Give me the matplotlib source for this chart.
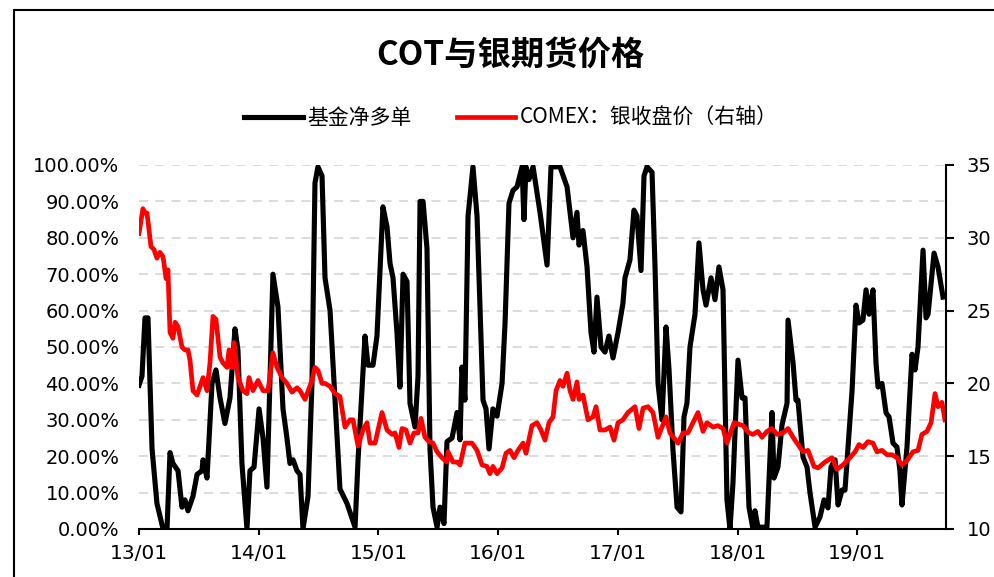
import numpy as np
import matplotlib
matplotlib.use("Agg")
import matplotlib.pyplot as plt
from matplotlib.patches import Rectangle
from matplotlib.ticker import FuncFormatter

plt.rcParams['font.family'] = ['Noto Sans CJK SC', 'DejaVu Sans']

# 基金净多单 (左轴, %) : 时间以 2013 年起的年数表示
cot_t = [0.000, 0.025, 0.050, 0.075, 0.109, 0.150, 0.201, 0.234, 0.259, 0.284,
         0.326, 0.359, 0.384, 0.409, 0.451, 0.485, 0.526, 0.535, 0.568, 0.610,
         0.643, 0.677, 0.718, 0.760, 0.802, 0.827, 0.860, 0.902, 0.927, 0.961,
         1.003, 1.036, 1.069, 1.119, 1.161, 1.203, 1.236, 1.261, 1.287, 1.320,
         1.345, 1.370, 1.412, 1.445, 1.470, 1.495, 1.529, 1.554, 1.596, 1.679,
         1.738, 1.779, 1.805, 1.830, 1.888, 1.913, 1.955, 1.988, 2.038, 2.072,
         2.097, 2.122, 2.155, 2.180, 2.206, 2.239, 2.264, 2.306, 2.331, 2.348,
         2.373, 2.406, 2.431, 2.456, 2.490, 2.515, 2.548, 2.573, 2.615, 2.657,
         2.682, 2.698, 2.723, 2.749, 2.790, 2.824, 2.874, 2.899, 2.924, 2.957,
         2.991, 3.033, 3.058, 3.091, 3.124, 3.158, 3.200, 3.216, 3.233, 3.258,
         3.292, 3.350, 3.409, 3.442, 3.517, 3.576, 3.626, 3.659, 3.676, 3.709,
         3.743, 3.776, 3.801, 3.826, 3.860, 3.893, 3.926, 3.960, 4.002, 4.043,
         4.060, 4.102, 4.135, 4.160, 4.194, 4.219, 4.244, 4.286, 4.311, 4.336,
         4.369, 4.403, 4.428, 4.461, 4.495, 4.528, 4.553, 4.578, 4.603, 4.645,
         4.678, 4.712, 4.737, 4.779, 4.812, 4.845, 4.879, 4.912, 4.937, 4.962,
         5.004, 5.038, 5.063, 5.096, 5.129, 5.146, 5.171, 5.246, 5.288, 5.305,
         5.338, 5.372, 5.414, 5.422, 5.464, 5.489, 5.505, 5.547, 5.581, 5.606,
         5.648, 5.689, 5.723, 5.756, 5.781, 5.815, 5.840, 5.873, 5.898, 5.957,
         5.990, 6.015, 6.048, 6.074, 6.099, 6.132, 6.157, 6.174, 6.207, 6.241,
         6.266, 6.299, 6.332, 6.357, 6.374, 6.416, 6.458, 6.483, 6.508, 6.550,
         6.575, 6.592, 6.642, 6.675, 6.717]
cot_v = [39.5, 42, 58, 58, 22, 7, 0, 0, 21, 18,
         16, 6, 8, 5, 9, 15, 16, 19, 14, 40,
         43.7, 36, 29, 36, 55, 49, 18, 0, 16, 17,
         33, 25, 11.5, 70, 61, 33, 25, 18, 19, 16,
         15, 0, 9, 40, 95, 99.5, 97, 69, 60, 11,
         7, 3, 0.5, 19, 53, 45, 45, 53, 88.5, 83,
         73, 69, 54, 39, 70, 68, 34.5, 28, 42, 90,
         90, 77, 22, 6, 0.5, 6, 1.5, 24, 25, 32,
         24.5, 44.5, 35.4, 86, 99.5, 86, 35.4, 33, 22, 33,
         31, 40, 56.5, 89.5, 93, 94, 99.5, 85, 99.5, 96,
         99.5, 87, 72.5, 99.5, 99.5, 94, 80, 87, 78, 82,
         72, 54, 48.6, 63.7, 50, 48.6, 53, 47, 54, 62,
         69, 74, 87.6, 86, 71, 97, 99.5, 98, 72, 40,
         30, 55.5, 43.7, 21.7, 6, 4.7, 30.8, 34.6, 50, 59,
         78.6, 65.7, 61.5, 69, 63, 72, 65.7, 8, 0, 12.6,
         46.4, 36, 36, 6, 0, 5, 0.5, 0.5, 32, 14,
         17, 28.6, 34.6, 57.4, 45.6, 35.4, 35.4, 19.8, 17, 9.9,
         0.5, 3.3, 8, 5.8, 17, 19, 6.6, 10.7, 10.7, 38,
         61.5, 56.6, 57.4, 65.7, 59, 65.7, 45.6, 39, 40, 31.9,
         30.8, 23.6, 22.5, 16, 6.6, 22.5, 48, 43.7, 50, 76.6,
         58, 59, 75.8, 72, 63.7]

# COMEX 银收盘价 (右轴)
ag_t = [0.000, 0.033, 0.050, 0.067, 0.100, 0.125, 0.150, 0.175, 0.201, 0.226,
        0.242, 0.259, 0.284, 0.301, 0.326, 0.359, 0.384, 0.409, 0.426, 0.451,
        0.485, 0.510, 0.535, 0.568, 0.593, 0.618, 0.643, 0.677, 0.702, 0.735,
        0.752, 0.777, 0.794, 0.827, 0.869, 0.902, 0.919, 0.952, 0.994, 1.036,
        1.078, 1.119, 1.153, 1.195, 1.236, 1.278, 1.320, 1.345, 1.387, 1.445,
        1.470, 1.495, 1.529, 1.554, 1.596, 1.637, 1.679, 1.721, 1.763, 1.788,
        1.830, 1.871, 1.905, 1.930, 1.972, 1.997, 2.030, 2.072, 2.114, 2.139,
        2.172, 2.197, 2.231, 2.264, 2.297, 2.331, 2.356, 2.389, 2.423, 2.456,
        2.490, 2.531, 2.573, 2.582, 2.623, 2.657, 2.682, 2.723, 2.782, 2.824,
        2.866, 2.907, 2.932, 2.957, 2.991, 3.033, 3.066, 3.099, 3.133, 3.166,
        3.208, 3.233, 3.283, 3.325, 3.358, 3.392, 3.425, 3.459, 3.484, 3.517,
        3.542, 3.576, 3.601, 3.626, 3.659, 3.676, 3.709, 3.751, 3.793, 3.818,
        3.851, 3.893, 3.935, 3.968, 4.002, 4.043, 4.085, 4.144, 4.177, 4.211,
        4.252, 4.294, 4.336, 4.369, 4.403, 4.436, 4.503, 4.545, 4.586, 4.628,
        4.670, 4.712, 4.745, 4.795, 4.837, 4.879, 4.912, 4.971, 5.046, 5.096,
        5.129, 5.171, 5.205, 5.246, 5.288, 5.330, 5.380, 5.422, 5.464, 5.505,
        5.547, 5.589, 5.639, 5.673, 5.731, 5.789, 5.831, 5.881, 5.940, 5.982,
        6.015, 6.048, 6.090, 6.132, 6.165, 6.207, 6.249, 6.291, 6.332, 6.374,
        6.416, 6.466, 6.508, 6.541, 6.583, 6.617, 6.650, 6.675, 6.708, 6.733]
ag_v = [30.3, 32.0, 31.7, 31.7, 29.4, 29.2, 28.6, 29.0, 28.7, 27.2,
        27.8, 23.5, 23.1, 24.2, 23.9, 22.5, 22.3, 22.3, 21.6, 19.5,
        19.2, 19.8, 20.4, 19.5, 21.4, 24.6, 24.4, 21.8, 21.4, 21.1,
        22.3, 21.1, 22.8, 20.4, 19.5, 19.3, 20.4, 19.5, 20.2, 19.5,
        19.5, 22.1, 21.1, 20.4, 20.0, 19.4, 19.7, 19.5, 18.9, 20.2,
        21.1, 20.9, 20.0, 20.0, 19.8, 19.3, 19.1, 17.0, 17.5, 17.5,
        15.7, 16.8, 17.3, 15.9, 15.9, 16.8, 18.0, 16.8, 16.5, 16.6,
        15.6, 16.9, 16.8, 15.9, 16.6, 16.6, 17.6, 16.3, 16.0, 15.9,
        15.3, 14.9, 14.6, 15.3, 14.6, 14.6, 14.4, 15.9, 15.9, 15.4,
        14.4, 14.3, 13.8, 14.3, 13.8, 14.2, 15.2, 15.4, 14.9, 15.4,
        15.9, 15.2, 17.1, 17.3, 16.8, 16.1, 17.3, 17.7, 19.5, 20.2,
        19.8, 20.7, 19.5, 18.9, 20.1, 18.9, 19.2, 17.5, 17.7, 18.4,
        16.8, 16.8, 17.0, 16.1, 17.3, 17.5, 18.0, 18.4, 16.9, 18.3,
        18.4, 18.0, 16.3, 17.0, 17.7, 16.6, 15.9, 16.6, 16.6, 17.3,
        18.0, 16.7, 17.3, 17.0, 17.1, 16.9, 15.9, 17.3, 17.1, 16.6,
        16.5, 16.7, 16.3, 16.7, 16.9, 16.5, 16.6, 16.9, 16.3, 15.8,
        15.3, 15.4, 14.3, 14.2, 14.6, 14.9, 14.1, 14.4, 14.9, 15.3,
        15.8, 15.6, 16.0, 15.9, 15.3, 15.4, 15.1, 15.1, 14.9, 14.4,
        14.7, 15.3, 15.4, 16.5, 16.7, 17.3, 19.3, 18.4, 18.7, 17.5]

x_ticks = [2013, 2014, 2015, 2016, 2017, 2018, 2019]
x_labels = ["13/01", "14/01", "15/01", "16/01", "17/01", "18/01", "19/01"]

fig = plt.figure(figsize=(9.94, 5.77), dpi=100)
ax = fig.add_axes([139/994, 1-529/577, (946-139)/994, (529-165)/577])
ax2 = ax.twinx()

t1 = 2013 + np.array(cot_t)
t2 = 2013 + np.array(ag_t)
l1, = ax.plot(t1, np.array(cot_v)/100, color="black", lw=3.7, solid_joinstyle="round", label="基金净多单")
l2, = ax2.plot(t2, ag_v, color="#ff0000", lw=3.4, solid_joinstyle="round", label="COMEX：银收盘价（右轴）")

ax.set_xlim(2013, 2013 + 807/119.7)
ax.set_ylim(0, 1)
ax.set_yticks(np.arange(0, 1.01, 0.1))
ax.yaxis.set_major_formatter(FuncFormatter(lambda v, p: "%.2f%%" % (v*100)))
ax2.set_ylim(10, 35)
ax2.set_yticks([10, 15, 20, 25, 30, 35])
ax.set_xticks(x_ticks)
ax.set_xticklabels(x_labels)

ax.grid(axis="y", color="#d9d9d9", lw=1.3, linestyle=(0, (5, 4)))
ax.set_axisbelow(True)

for a in (ax, ax2):
    a.spines["top"].set_visible(False)
    a.spines["left"].set_visible(False)
    a.spines["right"].set_visible(False)
ax2.spines["right"].set_visible(True)
ax2.spines["right"].set_linewidth(1.5)
ax2.spines["bottom"].set_visible(False)
ax.spines["bottom"].set_linewidth(1.5)

ax.tick_params(axis="y", length=0, pad=14, labelsize=14)
ax.tick_params(axis="x", length=4, width=1.5, pad=7, labelsize=14.5)
ax2.tick_params(axis="y", length=6, width=1.5, pad=9, labelsize=14)
for lab in ax.get_xticklabels() + ax.get_yticklabels() + ax2.get_yticklabels():
    lab.set_family("DejaVu Sans")

fig.text(0.514, 1-55/577, "COT与银期货价格", ha="center", va="center",
         fontsize=24, fontweight="bold")
fig.legend(handles=[l1, l2], loc="center", bbox_to_anchor=(0.514, 1-118/577),
           ncol=2, frameon=False, fontsize=15, handlelength=2.8,
           columnspacing=2.2, handletextpad=0.2)

fig.patches.append(Rectangle((14/994, -0.1), 1.2, 1.1 - 10/577, transform=fig.transFigure,
                             fill=False, edgecolor="black", lw=1.5))

fig.savefig("out.png", dpi=100)
